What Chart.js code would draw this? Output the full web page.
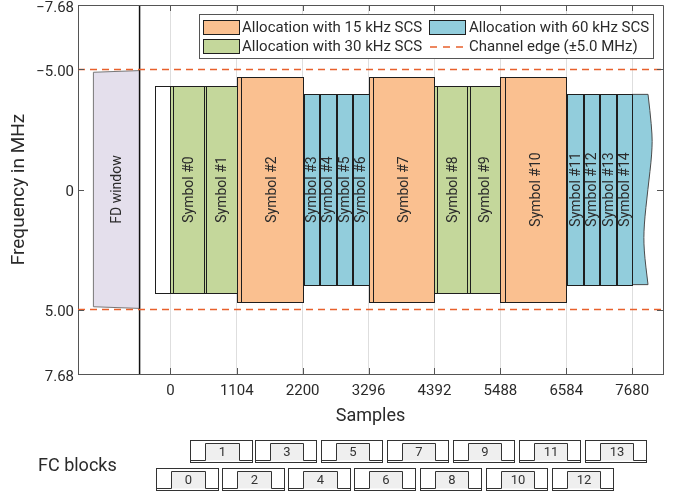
<!DOCTYPE html>
<html>
<head>
<meta charset="utf-8">
<script src="https://cdn.jsdelivr.net/npm/chart.js@4.4.1/dist/chart.umd.min.js"></script>
<style>
  html, body { margin: 0; padding: 0; background: #fff; }
  canvas { display: block; }
</style>
</head>
<body>
<canvas id="fcChart" width="678" height="497"></canvas>
<script>
// OFDM symbols with mixed numerology + FC (fast convolution) blocks
const xTickValues = [0, 1104, 2200, 3296, 4392, 5488, 6584, 7680];
const yTickValues = [-7.68, -5.00, 0, 5.00, 7.68];
const xRange = [-1536, 8192];
const yRange = [-7.68, 7.68];
const channelEdge = 5.0;

// allocation half-bandwidths (MHz) per subcarrier spacing
const scsValues = [15, 30, 60];
const scsHalfBw = [4.68, 4.32, 3.96];

const symbolNames = ['Symbol #0','Symbol #1','Symbol #2','Symbol #3','Symbol #4','Symbol #5','Symbol #6',
  'Symbol #7','Symbol #8','Symbol #9','Symbol #10','Symbol #11','Symbol #12','Symbol #13','Symbol #14'];
const symbolScs   = [30, 30, 15, 60, 60, 60, 60, 15, 30, 30, 15, 60, 60, 60, 60];
const symbolStart = [0, 556, 1104, 2200, 2474, 2748, 3022, 3296, 4392, 4940, 5488, 6584, 6858, 7132, 7406];
const symbolEnd   = [556, 1104, 2200, 2474, 2748, 3022, 3296, 4392, 4940, 5488, 6584, 6858, 7132, 7406, 7680];
const symbolCp    = [44, 36, 72, 18, 18, 18, 18, 72, 36, 36, 72, 18, 18, 18, 18];

// empty guard before symbol #0
const guardSpan = [-256, 0];
// next 60 kHz symbol, cut off with a wavy edge
const tailStart = 7680;
const tailEdgeX = [7943, 8013, 8010, 7940, 7875, 7873, 7943];
const tailEdgeY = [-3.96, -2.5, -1.5, 0, 1.5, 2.5, 3.96];

// FD window (slightly tapered)
const fdWindowX = [-1280, -512];
const fdWindowY = [4.88, 4.95];
const fdBoundary = -512;

// FC blocks (start sample), length in samples
const fcEvenLabels = ['0','2','4','6','8','10','12'];
const fcEvenStart  = [-233, 858, 1961, 3052, 4144, 5241, 6338];
const fcOddLabels  = ['1','3','5','7','9','11','13'];
const fcOddStart   = [332, 1406, 2503, 3600, 4697, 5794, 6887];
const fcLength = 1024;

const legendLabels = ['Allocation with 15 kHz SCS', 'Allocation with 60 kHz SCS',
  'Allocation with 30 kHz SCS', 'Channel edge (\u00b15.0 MHz)'];

const FONT = 'Roboto, "Noto Sans", sans-serif';
const TXT = '#2a2a2a';
const EDGE = '#1e1e1e';
const AXIS = '#555';
const RED = '#E8602C';
const scsColor = { 15: '#FAC090', 30: '#C4D79B', 60: '#92CDDC' };
const FD_FILL = '#E4DFEC';

function halfBw(scs){ return scsHalfBw[scsValues.indexOf(scs)]; }
function fmt(v){
  const s = (v === 0) ? '0' : Math.abs(v).toFixed(2);
  return v < 0 ? '\u2212' + s : s;
}

function fillRect(ctx, xs, ys, x0, x1, y0, y1, fill, stroke){
  const a = Math.round(xs.getPixelForValue(x0)) + 0.5;
  const b = Math.round(xs.getPixelForValue(x1)) + 0.5;
  const c = Math.round(ys.getPixelForValue(y0)) + 0.5;
  const d = Math.round(ys.getPixelForValue(y1)) + 0.5;
  ctx.fillStyle = fill;
  ctx.fillRect(a, c, b - a, d - c);
  ctx.strokeStyle = stroke; ctx.lineWidth = 1;
  ctx.strokeRect(a, c, b - a, d - c);
}

function vText(ctx, text, x, y, size){
  ctx.save();
  ctx.translate(x, y);
  ctx.rotate(-Math.PI / 2);
  ctx.fillStyle = TXT;
  ctx.font = size + 'px ' + FONT;
  ctx.textAlign = 'center'; ctx.textBaseline = 'middle';
  ctx.fillText(text, 0, 1);
  ctx.restore();
}

const shapesPlugin = {
  id: 'shapes',
  beforeDatasetsDraw(chart){
    const ctx = chart.ctx, xs = chart.scales.x, ys = chart.scales.y;
    ctx.save();

    // FD window
    const fx0 = xs.getPixelForValue(fdWindowX[0]), fx1 = xs.getPixelForValue(fdWindowX[1]);
    ctx.beginPath();
    ctx.moveTo(fx0, ys.getPixelForValue(-fdWindowY[0]));
    ctx.lineTo(fx1, ys.getPixelForValue(-fdWindowY[1]));
    ctx.lineTo(fx1, ys.getPixelForValue(fdWindowY[1]));
    ctx.lineTo(fx0, ys.getPixelForValue(fdWindowY[0]));
    ctx.closePath();
    ctx.fillStyle = FD_FILL; ctx.fill();
    ctx.strokeStyle = '#777'; ctx.lineWidth = 1; ctx.stroke();
    vText(ctx, 'FD window', (fx0 + fx1) / 2, ys.getPixelForValue(0), 14);

    // guard (empty) before first symbol
    fillRect(ctx, xs, ys, guardSpan[0], guardSpan[1], -halfBw(30), halfBw(30), '#fff', EDGE);

    // tail symbol with wavy cut
    ctx.beginPath();
    ctx.moveTo(xs.getPixelForValue(tailStart), ys.getPixelForValue(tailEdgeY[0]));
    const pts = tailEdgeX.map((x, i) => [xs.getPixelForValue(x), ys.getPixelForValue(tailEdgeY[i])]);
    ctx.lineTo(pts[0][0], pts[0][1]);
    for (let i = 1; i < pts.length - 1; i++){
      const mx = (pts[i][0] + pts[i+1][0]) / 2, my = (pts[i][1] + pts[i+1][1]) / 2;
      ctx.quadraticCurveTo(pts[i][0], pts[i][1], mx, my);
    }
    ctx.lineTo(pts[pts.length-1][0], pts[pts.length-1][1]);
    ctx.lineTo(xs.getPixelForValue(tailStart), ys.getPixelForValue(tailEdgeY[tailEdgeY.length-1]));
    ctx.closePath();
    ctx.fillStyle = scsColor[60]; ctx.fill();
    ctx.strokeStyle = '#4a4a4a'; ctx.lineWidth = 1; ctx.stroke();

    // symbols: cyclic prefix strip + body
    symbolNames.forEach((name, i) => {
      const scs = symbolScs[i], bw = halfBw(scs), col = scsColor[scs];
      const cpEnd = symbolStart[i] + symbolCp[i];
      fillRect(ctx, xs, ys, symbolStart[i], cpEnd, -bw, bw, col, EDGE);
      fillRect(ctx, xs, ys, cpEnd, symbolEnd[i], -bw, bw, col, EDGE);
      const cx = (xs.getPixelForValue(cpEnd) + xs.getPixelForValue(symbolEnd[i])) / 2;
      vText(ctx, name, cx, ys.getPixelForValue(0), 14);
    });
    ctx.restore();
  },
  afterDraw(chart){
    const ctx = chart.ctx, xs = chart.scales.x, ys = chart.scales.y;
    const a = chart.chartArea;
    ctx.save();

    // frame top/right
    ctx.strokeStyle = AXIS; ctx.lineWidth = 1;
    ctx.beginPath();
    ctx.moveTo(Math.round(a.left) + 0.5, Math.round(a.top) + 0.5);
    ctx.lineTo(Math.round(a.right) + 0.5, Math.round(a.top) + 0.5);
    ctx.lineTo(Math.round(a.right) + 0.5, Math.round(a.bottom) + 0.5);
    ctx.stroke();

    // inward ticks on all sides
    ctx.beginPath();
    xTickValues.forEach(v => {
      const x = Math.round(xs.getPixelForValue(v)) + 0.5;
      ctx.moveTo(x, a.bottom); ctx.lineTo(x, a.bottom - 6);
      ctx.moveTo(x, a.top); ctx.lineTo(x, a.top + 6);
    });
    yTickValues.forEach(v => {
      const y = Math.round(ys.getPixelForValue(v)) + 0.5;
      ctx.moveTo(a.left, y); ctx.lineTo(a.left + 6, y);
      ctx.moveTo(a.right, y); ctx.lineTo(a.right - 6, y);
    });
    ctx.stroke();

    // legend box
    const lx = 199.5, ly = 14.5, lw = 454, lh = 44;
    ctx.fillStyle = '#fff'; ctx.fillRect(lx, ly, lw, lh);
    ctx.strokeStyle = '#555'; ctx.strokeRect(lx, ly, lw, lh);
    const sw = [[203.5, 20.5, scsColor[15]], [429.5, 20.5, scsColor[60]], [203.5, 39.5, scsColor[30]]];
    sw.forEach(s => {
      ctx.fillStyle = s[2]; ctx.fillRect(s[0], s[1], 36, 14);
      ctx.strokeStyle = EDGE; ctx.strokeRect(s[0], s[1], 36, 14);
    });
    ctx.strokeStyle = RED; ctx.lineWidth = 1.5; ctx.setLineDash([7, 6]);
    ctx.beginPath(); ctx.moveTo(430, 47); ctx.lineTo(466, 47); ctx.stroke();
    ctx.setLineDash([]); ctx.lineWidth = 1;
    ctx.fillStyle = TXT; ctx.font = '15px ' + FONT;
    ctx.textAlign = 'left'; ctx.textBaseline = 'middle';
    ctx.fillText(legendLabels[0], 242, 28);
    ctx.fillText(legendLabels[1], 469, 28);
    ctx.fillText(legendLabels[2], 242, 47);
    ctx.fillText(legendLabels[3], 469, 47);

    // FC blocks
    ctx.font = '18px ' + FONT; ctx.fillStyle = TXT;
    ctx.fillText('FC blocks', 38, 466);
    const drawBlock = (start, label, y0) => {
      const h = 22;
      const x0 = Math.round(xs.getPixelForValue(start)) + 0.5;
      const x1 = Math.round(xs.getPixelForValue(start + fcLength)) + 0.5;
      const w = x1 - x0;
      ctx.fillStyle = '#fff'; ctx.fillRect(x0, y0, w, h);
      const r0 = Math.round(x0 + 0.23 * w) + 0.5, r1 = Math.round(x0 + 0.78 * w) + 0.5;
      const top = y0 + 3, base = y0 + h - 2;
      ctx.fillStyle = '#efefef'; ctx.fillRect(r0, top, r1 - r0, base - top);
      ctx.strokeStyle = '#333'; ctx.lineWidth = 1;
      ctx.strokeRect(x0, y0, w, h);
      ctx.beginPath();
      ctx.moveTo(x0, base); ctx.lineTo(r0, base); ctx.lineTo(r0, top);
      ctx.lineTo(r1, top); ctx.lineTo(r1, base); ctx.lineTo(x1, base);
      ctx.stroke();
      ctx.fillStyle = '#333'; ctx.font = '13px ' + FONT;
      ctx.textAlign = 'center'; ctx.textBaseline = 'middle';
      ctx.fillText(label, (r0 + r1) / 2, (top + base) / 2 + 1);
    };
    fcOddStart.forEach((s, i) => drawBlock(s, fcOddLabels[i], 440.5));
    fcEvenStart.forEach((s, i) => drawBlock(s, fcEvenLabels[i], 468.5));
    ctx.restore();
  }
};

const ctx = document.getElementById('fcChart').getContext('2d');
new Chart(ctx, {
  type: 'scatter',
  data: {
    datasets: [
      { data: [{x: xRange[0], y: -channelEdge}, {x: xRange[1], y: -channelEdge}],
        showLine: true, borderColor: RED, borderWidth: 1.5, borderDash: [7, 5], pointRadius: 0 },
      { data: [{x: xRange[0], y: channelEdge}, {x: xRange[1], y: channelEdge}],
        showLine: true, borderColor: RED, borderWidth: 1.5, borderDash: [7, 5], pointRadius: 0 },
      { data: [{x: fdBoundary, y: yRange[0]}, {x: fdBoundary, y: yRange[1]}],
        showLine: true, borderColor: '#111', borderWidth: 1.5, pointRadius: 0 }
    ]
  },
  options: {
    responsive: false,
    animation: false,
    layout: { padding: { top: 5, right: 15, left: 0, bottom: 0 } },
    plugins: { legend: { display: false }, tooltip: { enabled: false } },
    scales: {
      x: {
        type: 'linear', min: xRange[0], max: xRange[1],
        afterBuildTicks: s => { s.ticks = xTickValues.map(v => ({ value: v })); },
        afterFit: s => { s.height = 123; s.paddingLeft = 0; s.paddingRight = 0; },
        grid: { color: '#dedede', drawTicks: false },
        border: { display: true, color: AXIS },
        ticks: { font: { family: FONT, size: 15 }, color: TXT, padding: 8, maxRotation: 0, autoSkip: false,
                 callback: v => String(v) },
        title: { display: true, text: 'Samples', font: { family: FONT, size: 18 }, color: TXT,
                 padding: { top: 0, bottom: 70 } }
      },
      y: {
        type: 'linear', min: yRange[0], max: yRange[1], reverse: true,
        afterBuildTicks: s => { s.ticks = yTickValues.map(v => ({ value: v })); },
        afterFit: s => { s.width = 78; s.paddingTop = 0; s.paddingBottom = 0; },
        grid: { display: false, drawTicks: false },
        border: { display: true, color: AXIS },
        ticks: { font: { family: FONT, size: 15 }, color: TXT, padding: 4, labelOffset: 3,
                 callback: v => fmt(v) },
        title: { display: true, text: 'Frequency in MHz', font: { family: FONT, size: 19 }, color: TXT,
                 padding: { top: 8, bottom: 0 } }
      }
    }
  },
  plugins: [shapesPlugin]
});
</script>
</body>
</html>
